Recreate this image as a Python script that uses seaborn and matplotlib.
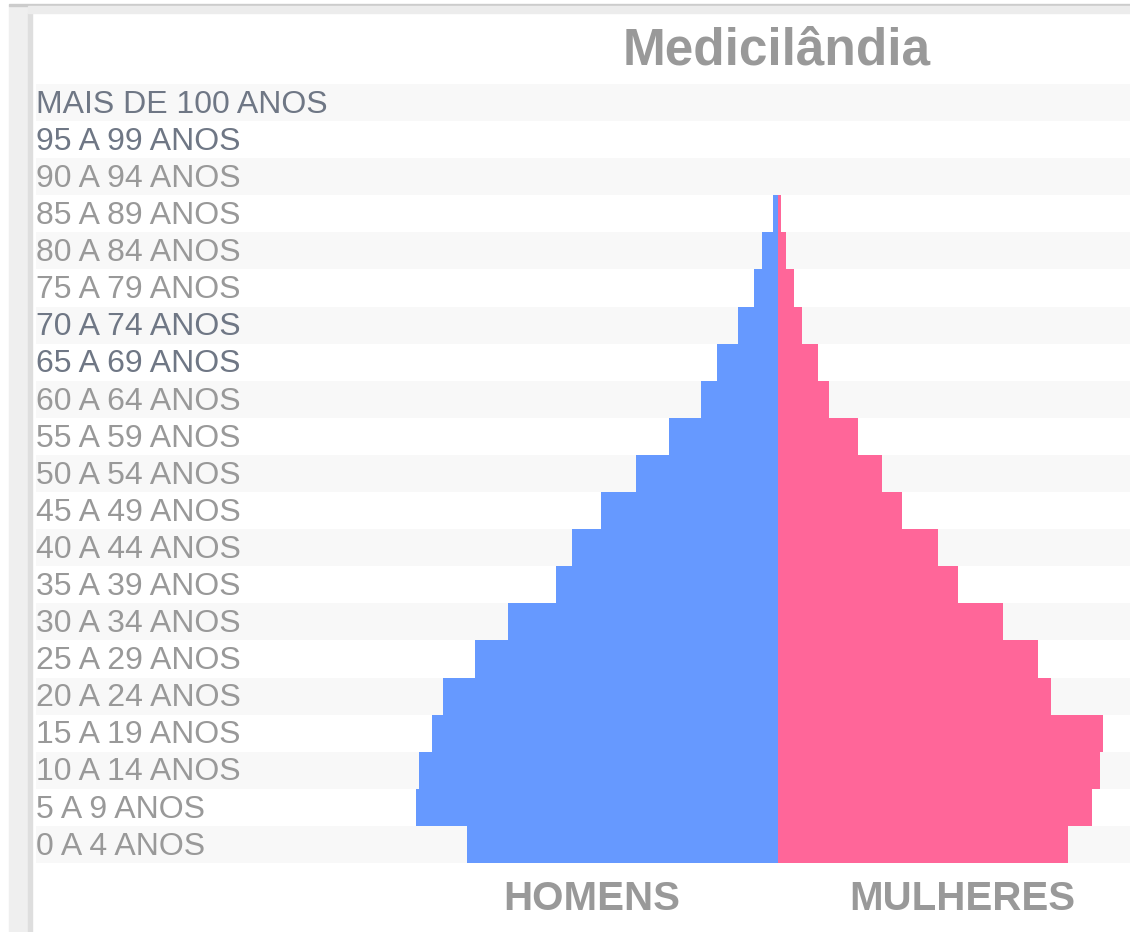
import numpy as np
import pandas as pd
import matplotlib
matplotlib.use('Agg')
import matplotlib.pyplot as plt
import matplotlib.transforms as mtransforms
from matplotlib.patches import Rectangle
import seaborn as sns

# Faixas etárias (de cima para baixo) e população por sexo
faixas = ['MAIS DE 100 ANOS', '95 A 99 ANOS', '90 A 94 ANOS', '85 A 89 ANOS',
          '80 A 84 ANOS', '75 A 79 ANOS', '70 A 74 ANOS', '65 A 69 ANOS',
          '60 A 64 ANOS', '55 A 59 ANOS', '50 A 54 ANOS', '45 A 49 ANOS',
          '40 A 44 ANOS', '35 A 39 ANOS', '30 A 34 ANOS', '25 A 29 ANOS',
          '20 A 24 ANOS', '15 A 19 ANOS', '10 A 14 ANOS', '5 A 9 ANOS',
          '0 A 4 ANOS']
homens = [0, 0, 0, 22, 70, 106, 176, 268, 339, 480, 625, 779, 906, 977,
          1188, 1333, 1474, 1522, 1580, 1593, 1368]
mulheres = [0, 0, 0, 13, 35, 70, 106, 176, 224, 352, 458, 546, 704, 792,
            990, 1144, 1201, 1430, 1417, 1382, 1276]
destaque = ['MAIS DE 100 ANOS', '95 A 99 ANOS', '70 A 74 ANOS', '65 A 69 ANOS']

titulo = 'Medicilândia'
rotulos_sexo = ['HOMENS', 'MULHERES']

sns.set_theme(style='white')
plt.rcParams['font.family'] = ['Liberation Sans', 'DejaVu Sans']

W, H = 1130, 932
fig = plt.figure(figsize=(W / 100, H / 100), dpi=100)

# moldura cinza (painel)
fig.patches.append(Rectangle((9 / W, 0), 19 / W, 1 - 6 / H, transform=fig.transFigure,
                             color='#efefef', zorder=0))
fig.patches.append(Rectangle((28 / W, 0), 4 / W, 1 - 13 / H, transform=fig.transFigure,
                             color='#dedede', zorder=0))
fig.patches.append(Rectangle((9 / W, 1 - 6 / H), 1, 2 / H, transform=fig.transFigure,
                             color='#cccccc', zorder=0))
fig.patches.append(Rectangle((28 / W, 1 - 13 / H), 1, 7 / H, transform=fig.transFigure,
                             color='#ececec', zorder=0))

ax = fig.add_axes([36 / W, (H - 863) / H, (W - 36) / W, (863 - 84) / H])
ax.set_facecolor('none')

df = pd.DataFrame({'faixa': faixas, 'homens': homens, 'mulheres': mulheres})
df['homens_neg'] = -df['homens']

# faixas alternadas
for i in range(len(faixas)):
    if i % 2 == 0:
        ax.axhspan(i - 0.5, i + 0.5, color='#f8f8f8', lw=0, zorder=0)

sns.barplot(data=df, x='homens_neg', y='faixa', order=faixas, orient='h',
            color='#6699ff', saturation=1, width=1.0, linewidth=0, ax=ax, zorder=2)
sns.barplot(data=df, x='mulheres', y='faixa', order=faixas, orient='h',
            color='#ff6699', saturation=1, width=1.0, linewidth=0, ax=ax, zorder=2)

escala = 4.4  # pessoas por pixel
ax.set_xlim(-742 * escala, 352 * escala)
ax.set_ylim(len(faixas) - 0.5, -0.5)
ax.set_xlabel('')
ax.set_ylabel('')
ax.set_xticks([])
ax.set_yticks([])
for s in ax.spines.values():
    s.set_visible(False)

trans = mtransforms.blended_transform_factory(ax.transAxes, ax.transData)
for i, f in enumerate(faixas):
    cor = '#6f7785' if f in destaque else '#999999'
    ax.text(0, i + 0.06, f, transform=trans, ha='left', va='center',
            fontsize=23, color=cor, zorder=3)

fig.text(777 / W, 1 - 51 / H, titulo, ha='center', va='center',
         fontsize=37, fontweight='bold', color='#999999')
fig.text(592 / W, 1 - 899 / H, rotulos_sexo[0], ha='center', va='center',
         fontsize=29, fontweight='bold', color='#999999')
fig.text(962 / W, 1 - 899 / H, rotulos_sexo[1], ha='center', va='center',
         fontsize=29, fontweight='bold', color='#999999')

fig.savefig('out.png', dpi=100, facecolor='white')
